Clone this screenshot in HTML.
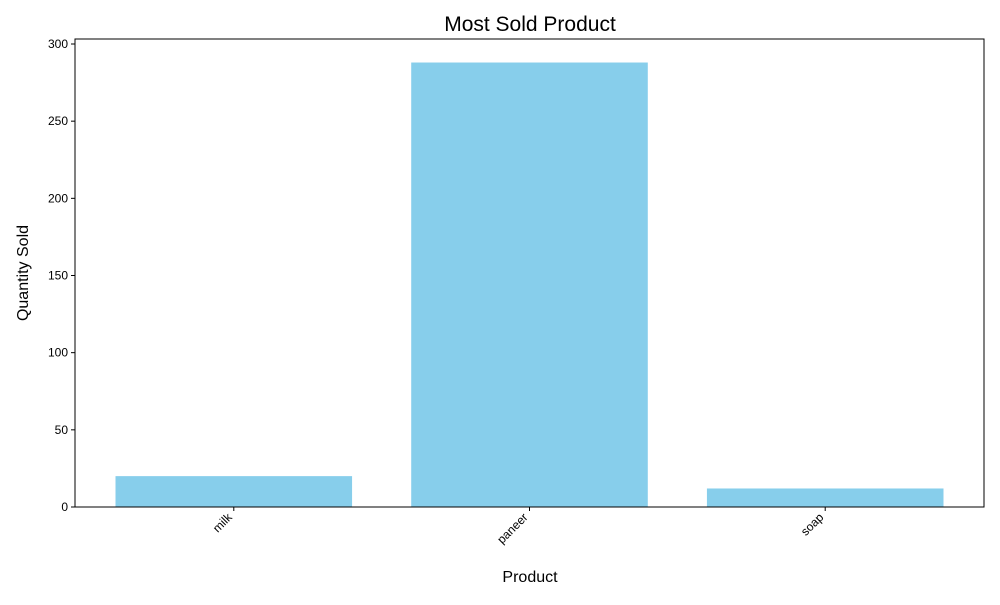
<!DOCTYPE html>
<html><head><meta charset="utf-8"><style>
body{margin:0;background:#fff;font-family:"Liberation Sans","DejaVu Sans",sans-serif;}
</style></head><body>
<svg width="1000" height="600" id="svg" xmlns="http://www.w3.org/2000/svg">
<rect width="1000" height="600" fill="#fff"/>
<text x="530" y="31" text-anchor="middle" font-size="21">Most Sold Product</text>
<text x="530" y="582" text-anchor="middle" font-size="16">Product</text>
<text transform="translate(28,273) rotate(-90)" text-anchor="middle" font-size="16">Quantity Sold</text>
<g id="plot"></g>
<rect x="75" y="39" width="909" height="468" fill="none" stroke="#000" stroke-width="1"/>
</svg>
<script>
const categories=["milk","paneer","soap"];
const values=[20,288,12];
const yTicks=[0,50,100,150,200,250,300];
const L=75,R=984,T=39,B=507;
const xMin=-0.537,xMax=2.537;
function x(v){return L+(v-xMin)/(xMax-xMin)*(R-L);}
function y(v){return B-v*(B-44)/300;}
const g=document.getElementById('plot');
const NS="http://www.w3.org/2000/svg";
function mk(t,a){const e=document.createElementNS(NS,t);for(const k in a)e.setAttribute(k,a[k]);g.appendChild(e);return e;}
values.forEach((v,i)=>{
 const r=mk('rect',{x:x(i-0.4),y:y(v),width:x(i+0.4)-x(i-0.4),height:B-y(v),fill:'#87ceeb'});
 
 
 const tk=mk('line',{x1:x(i),x2:x(i),y1:B,y2:B+4,stroke:'#000'});
 
 
 const t=mk('text',{'text-anchor':'end','font-size':'12',transform:`translate(${x(i)-1},${B+11}) rotate(-45)`});
 t.textContent=categories[i];
 
 
});
yTicks.forEach(v=>{
 const tk=mk('line',{x1:L-4,x2:L,y1:y(v),y2:y(v),stroke:'#000'});
 
 
 const t=mk('text',{x:L-7,y:y(v)+4,'text-anchor':'end','font-size':'12'});
 t.textContent=v;
 
 
});
</script>
</body></html>
